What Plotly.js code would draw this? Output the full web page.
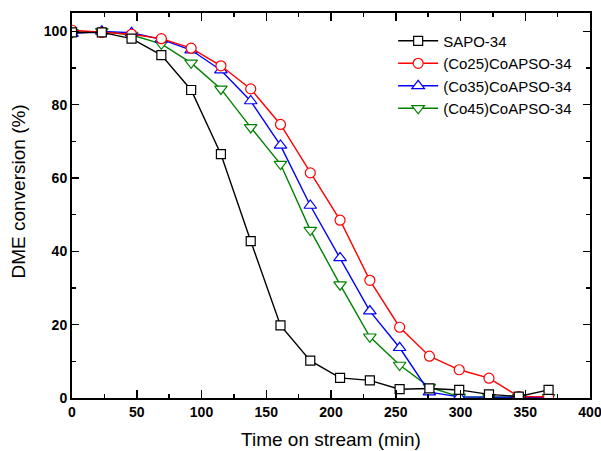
<!DOCTYPE html>
<html>
<head>
<meta charset="utf-8">
<script src="https://cdn.plot.ly/plotly-3.0.1.min.js"></script>
<style>html,body{margin:0;padding:0;background:#fff;}#chart{width:601px;height:451px;}</style>
</head>
<body>
<div id="chart"></div>
<script>
const timeMin = [0, 23, 46, 69, 92, 115, 138, 161, 184, 207, 230, 253, 276, 299, 322, 345, 368];
const sapo34 = [99.7, 99.7, 98.0, 93.5, 84.0, 66.5, 42.8, 19.8, 10.2, 5.5, 4.8, 2.4, 2.6, 2.2, 1.0, 0.4, 2.2];
const co25 = [100.3, 99.7, 99.2, 98.0, 95.4, 90.6, 84.3, 74.6, 61.4, 48.5, 32.1, 19.3, 11.4, 7.7, 5.4, 0.4, 0.3];
const co35 = [99.4, 100.0, 99.6, 97.8, 94.9, 89.4, 81.0, 68.9, 52.5, 38.2, 23.7, 13.7, 1.6, 0.3, 0.2, 0.2, 0.2];
const co45 = [99.7, 100.0, 99.0, 96.6, 91.4, 84.3, 73.8, 63.8, 45.8, 30.9, 16.7, 9.0, 3.0, 0.3, 0.2, 0.2, 0.2];
const seriesNames = ['SAPO-34', '(Co25)CoAPSO-34', '(Co35)CoAPSO-34', '(Co45)CoAPSO-34'];
const seriesColors = ['#000000', '#ff0000', '#0000ff', '#008000'];
const seriesSymbols = ['square', 'circle', 'triangle-up', 'triangle-down'];
const seriesSizes = [9, 10, 11, 11];
const seriesValues = [sapo34, co25, co35, co45];
const xTitle = 'Time on stream (min)';
const yTitle = 'DME conversion (%)';

const traces = [];
for (let i = seriesValues.length - 1; i >= 0; i--) {
  traces.push({
    x: timeMin, y: seriesValues[i], name: seriesNames[i], type: 'scatter', mode: 'lines+markers',
    line: {color: seriesColors[i], width: 1.4},
    marker: {symbol: seriesSymbols[i], size: seriesSizes[i], color: '#ffffff', line: {color: seriesColors[i], width: 1.2}}
  });
}
const font = 'Arial, "Liberation Sans", sans-serif';
const axisCommon = {
  showline: true, linecolor: '#000', linewidth: 2, mirror: 'allticks',
  ticks: 'inside', tickcolor: '#000', tickwidth: 1.5, showgrid: false, zeroline: false,
  ticklabeloverflow: 'allow',
  tickfont: {family: font, size: 14, color: '#000', weight: 'bold'}
};
const layout = {
  width: 601, height: 451,
  margin: {l: 72, r: 11, t: 13, b: 53},
  paper_bgcolor: '#fff', plot_bgcolor: '#fff',
  showlegend: true,
  legend: {x: 0.62, y: 0.97, xanchor: 'left', yanchor: 'top', traceorder: 'reversed', bgcolor: 'rgba(0,0,0,0)',
           font: {family: font, size: 15, color: '#000'}, itemwidth: 40},
  xaxis: Object.assign({}, axisCommon, {range: [0, 400], dtick: 50, ticklen: 8,
    minor: {dtick: 25, ticklen: 4, ticks: 'inside', tickcolor: '#000', tickwidth: 1.5},
    title: {text: xTitle, font: {family: font, size: 19, color: '#000'}, standoff: 14}}),
  yaxis: Object.assign({}, axisCommon, {range: [0, 105], dtick: 20, ticklen: 7,
    minor: {dtick: 10, ticklen: 4, ticks: 'inside', tickcolor: '#000', tickwidth: 1.5}}),
  annotations: [{
    text: yTitle, xref: 'paper', yref: 'paper', x: -0.1042, y: 0.5364,
    xanchor: 'center', yanchor: 'middle', textangle: -90, showarrow: false,
    font: {family: font, size: 19, color: '#000'}
  }]
};
Plotly.newPlot('chart', traces, layout, {displayModeBar: false, staticPlot: true});
</script>
</body>
</html>
